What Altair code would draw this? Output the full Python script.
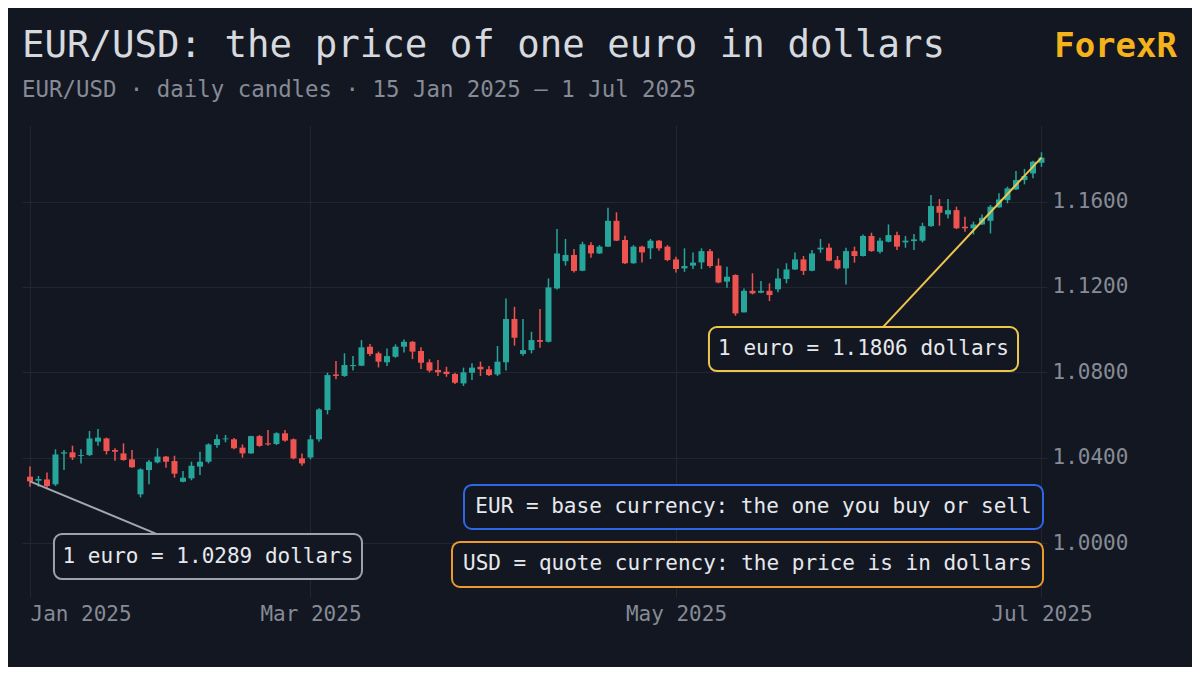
import altair as alt
import pandas as pd
import numpy as np

# ---------------- data ----------------
dates = pd.bdate_range("2025-01-15", "2025-07-01").strftime("%Y-%m-%d").tolist()

opens = [1.0311, 1.0292, 1.0298, 1.0275, 1.0419, 1.0425, 1.0408, 1.0412, 1.0475, 1.0490,
         1.0436, 1.0420, 1.0392, 1.0228, 1.0342, 1.0378, 1.0405, 1.0384, 1.0287, 1.0303,
         1.0358, 1.0381, 1.0459, 1.0486, 1.0486, 1.0447, 1.0420, 1.0501, 1.0467, 1.0464,
         1.0514, 1.0486, 1.0397, 1.0401, 1.0486, 1.0623, 1.0790, 1.0783, 1.0829, 1.0831,
         1.0920, 1.0889, 1.0847, 1.0873, 1.0920, 1.0943, 1.0900, 1.0847, 1.0811, 1.0803,
         1.0792, 1.0748, 1.0798, 1.0826, 1.0814, 1.0790, 1.0847, 1.1050, 1.0886, 1.0904,
         1.0951, 1.0943, 1.1193, 1.1321, 1.1350, 1.1276, 1.1396, 1.1357, 1.1389, 1.1510,
         1.1420, 1.1311, 1.1389, 1.1381, 1.1417, 1.1389, 1.1329, 1.1287, 1.1300, 1.1315,
         1.1368, 1.1300, 1.1225, 1.1256, 1.1081, 1.1182, 1.1173, 1.1182, 1.1189, 1.1237,
         1.1282, 1.1329, 1.1276, 1.1376, 1.1384, 1.1326, 1.1287, 1.1368, 1.1345, 1.1439,
         1.1365, 1.1412, 1.1443, 1.1409, 1.1415, 1.1417, 1.1485, 1.1579, 1.1540, 1.1560,
         1.1482, 1.1475, 1.1493, 1.1510, 1.1573, 1.1607, 1.1657, 1.1701, 1.1732, 1.1782]

highs = [1.0358, 1.0314, 1.0330, 1.0439, 1.0436, 1.0456, 1.0440, 1.0525, 1.0534, 1.0494,
         1.0444, 1.0467, 1.0436, 1.0350, 1.0389, 1.0444, 1.0408, 1.0409, 1.0337, 1.0381,
         1.0428, 1.0467, 1.0509, 1.0506, 1.0492, 1.0462, 1.0503, 1.0506, 1.0530, 1.0519,
         1.0530, 1.0490, 1.0420, 1.0506, 1.0631, 1.0798, 1.0853, 1.0889, 1.0876, 1.0951,
         1.0933, 1.0897, 1.0912, 1.0931, 1.0954, 1.0947, 1.0917, 1.0861, 1.0858, 1.0826,
         1.0798, 1.0822, 1.0842, 1.0850, 1.0829, 1.0923, 1.1146, 1.1107, 1.1050, 1.0990,
         1.1097, 1.1240, 1.1472, 1.1425, 1.1378, 1.1412, 1.1409, 1.1396, 1.1571, 1.1550,
         1.1440, 1.1396, 1.1393, 1.1425, 1.1420, 1.1396, 1.1342, 1.1381, 1.1362, 1.1381,
         1.1378, 1.1334, 1.1295, 1.1259, 1.1193, 1.1264, 1.1228, 1.1217, 1.1287, 1.1311,
         1.1362, 1.1345, 1.1373, 1.1425, 1.1404, 1.1345, 1.1384, 1.1389, 1.1446, 1.1454,
         1.1431, 1.1493, 1.1459, 1.1439, 1.1448, 1.1501, 1.1631, 1.1612, 1.1612, 1.1576,
         1.1529, 1.1506, 1.1540, 1.1584, 1.1639, 1.1670, 1.1743, 1.1753, 1.1792, 1.1831]

lows = [1.0264, 1.0264, 1.0259, 1.0267, 1.0342, 1.0389, 1.0373, 1.0408, 1.0456, 1.0415,
        1.0386, 1.0386, 1.0353, 1.0214, 1.0275, 1.0373, 1.0353, 1.0306, 1.0285, 1.0294,
        1.0319, 1.0373, 1.0447, 1.0472, 1.0440, 1.0400, 1.0418, 1.0451, 1.0456, 1.0459,
        1.0475, 1.0392, 1.0362, 1.0392, 1.0475, 1.0603, 1.0767, 1.0779, 1.0808, 1.0829,
        1.0876, 1.0823, 1.0829, 1.0868, 1.0893, 1.0862, 1.0815, 1.0800, 1.0783, 1.0779,
        1.0745, 1.0736, 1.0764, 1.0783, 1.0783, 1.0783, 1.0808, 1.0925, 1.0878, 1.0889,
        1.0915, 1.0940, 1.1188, 1.1300, 1.1268, 1.1274, 1.1337, 1.1355, 1.1387, 1.1415,
        1.1308, 1.1309, 1.1315, 1.1331, 1.1370, 1.1321, 1.1268, 1.1271, 1.1284, 1.1284,
        1.1290, 1.1217, 1.1196, 1.1065, 1.1080, 1.1165, 1.1170, 1.1134, 1.1175, 1.1217,
        1.1279, 1.1256, 1.1274, 1.1360, 1.1321, 1.1282, 1.1212, 1.1314, 1.1343, 1.1365,
        1.1357, 1.1409, 1.1373, 1.1384, 1.1373, 1.1409, 1.1482, 1.1487, 1.1521, 1.1471,
        1.1459, 1.1446, 1.1490, 1.1451, 1.1571, 1.1592, 1.1654, 1.1681, 1.1709, 1.1763]

closes = [1.0289, 1.0300, 1.0267, 1.0415, 1.0425, 1.0401, 1.0412, 1.0490, 1.0494, 1.0431,
          1.0428, 1.0389, 1.0355, 1.0345, 1.0381, 1.0405, 1.0381, 1.0325, 1.0306, 1.0362,
          1.0381, 1.0462, 1.0487, 1.0490, 1.0444, 1.0420, 1.0501, 1.0455, 1.0462, 1.0514,
          1.0480, 1.0397, 1.0373, 1.0486, 1.0626, 1.0787, 1.0783, 1.0834, 1.0834, 1.0917,
          1.0886, 1.0850, 1.0876, 1.0920, 1.0943, 1.0897, 1.0845, 1.0808, 1.0800, 1.0792,
          1.0751, 1.0800, 1.0822, 1.0814, 1.0787, 1.0850, 1.1050, 1.0962, 1.0904, 1.0951,
          1.0943, 1.1198, 1.1357, 1.1350, 1.1275, 1.1400, 1.1357, 1.1389, 1.1510, 1.1417,
          1.1311, 1.1389, 1.1362, 1.1417, 1.1381, 1.1326, 1.1284, 1.1298, 1.1314, 1.1368,
          1.1298, 1.1221, 1.1248, 1.1076, 1.1182, 1.1170, 1.1182, 1.1162, 1.1240, 1.1282,
          1.1329, 1.1275, 1.1357, 1.1384, 1.1323, 1.1287, 1.1368, 1.1345, 1.1439, 1.1368,
          1.1417, 1.1443, 1.1389, 1.1417, 1.1423, 1.1485, 1.1579, 1.1548, 1.1560, 1.1475,
          1.1475, 1.1493, 1.1524, 1.1576, 1.1610, 1.1662, 1.1701, 1.1720, 1.1787, 1.1806]

tick_dates = ["2025-01-15", "2025-03-03", "2025-05-01", "2025-07-01"]
tick_labels = ["Jan 2025", "Mar 2025", "May 2025", "Jul 2025"]
y_ticks = [1.00, 1.04, 1.08, 1.12, 1.16]

title = "EUR/USD: the price of one euro in dollars"
subtitle = "EUR/USD · daily candles · 15 Jan 2025 – 1 Jul 2025"
brand = "ForexR"

# annotation boxes (x in candle index units, y in price units)
box_text = ["1 euro = 1.0289 dollars", "1 euro = 1.1806 dollars",
            "EUR = base currency: the one you buy or sell",
            "USD = quote currency: the price is in dollars"]
box_x1 = [2.82, 79.88, 51.06, 49.65]
box_x2 = [39.06, 116.24, 119.18, 119.18]
box_y1 = [1.0042, 1.1012, 1.0272, 1.0005]
box_y2 = [0.9831, 1.0806, 1.0066, 0.9794]
box_color = ["#9ea2aa", "#eec64c", "#2f66e6", "#ec9a2c"]

lead_x1 = [0, 119]
lead_y1 = [1.0289, 1.1806]
lead_x2 = [14.94, 100.35]
lead_y2 = [1.0042, 1.1012]
lead_color = ["#a3a7ae", "#eec64c"]

# ---------------- styling ----------------
BG = "#131722"
MONO = "DejaVu Sans Mono"
UP, DOWN = "#26a69a", "#ef5350"
GRID = "#222633"
MUTED = "#868b95"

df = pd.DataFrame({"i": np.arange(len(opens)), "date": dates,
                   "open": opens, "high": highs, "low": lows, "close": closes})
df["dir"] = np.where(df["close"] >= df["open"], "up", "down")

tick_idx = [dates.index(d) for d in tick_dates]
label_expr = " : ".join(f"datum.value == {i} ? '{l}'" for i, l in zip(tick_idx, tick_labels)) + " : ''"

xs = alt.Scale(domain=[-0.94, 119.65], nice=False, zero=False, padding=0)
ys = alt.Scale(domain=[0.9747, 1.1959], nice=False, zero=False)

x_axis = alt.Axis(values=tick_idx, labelExpr=label_expr, title=None, grid=True,
                  gridColor=GRID, gridWidth=1, domain=False, ticks=False,
                  labelFont=MONO, labelFontSize=21, labelColor=MUTED, labelPadding=6,
                  labelAlign={"condition": {"test": f"datum.value == {tick_idx[0]}", "value": "left"},
                              "value": "center"},
                  labelFlush=False)
y_axis = alt.Axis(orient="right", values=y_ticks, format=".4f", title=None, grid=True,
                  gridColor=GRID, gridWidth=1, domain=False, ticks=False,
                  labelFont=MONO, labelFontSize=21, labelColor=MUTED, labelPadding=5)

color = alt.Color("dir:N", scale=alt.Scale(domain=["up", "down"], range=[UP, DOWN]), legend=None)

base = alt.Chart(df)
wicks = base.mark_rule(strokeWidth=1.5).encode(
    x=alt.X("i:Q", scale=xs, axis=x_axis),
    y=alt.Y("low:Q", scale=ys, axis=y_axis),
    y2="high:Q",
    color=color,
)
bodies = base.mark_bar(size=6).encode(
    x=alt.X("i:Q", scale=xs),
    y=alt.Y("open:Q", scale=ys),
    y2="close:Q",
    color=color,
)

lead_df = pd.DataFrame({"x": lead_x1, "y": lead_y1, "x2": lead_x2, "y2": lead_y2, "c": lead_color})
leads = alt.Chart(lead_df).mark_rule(strokeWidth=2).encode(
    x=alt.X("x:Q", scale=xs), y=alt.Y("y:Q", scale=ys), x2="x2:Q", y2="y2:Q",
    color=alt.Color("c:N", scale=None),
)

box_df = pd.DataFrame({"x": box_x1, "x2": box_x2, "y": box_y1, "y2": box_y2,
                       "c": box_color, "t": box_text})
box_df["xm"] = (box_df["x"] + box_df["x2"]) / 2
box_df["ym"] = (box_df["y"] + box_df["y2"]) / 2
boxes = alt.Chart(box_df).mark_rect(fill=BG, strokeWidth=2, cornerRadius=8).encode(
    x=alt.X("x:Q", scale=xs), x2="x2:Q", y=alt.Y("y:Q", scale=ys), y2="y2:Q",
    stroke=alt.Stroke("c:N", scale=None),
)
box_txt = alt.Chart(box_df).mark_text(font=MONO, fontSize=21, color="#e6e8ec",
                                      align="center", baseline="middle").encode(
    x=alt.X("xm:Q", scale=xs), y=alt.Y("ym:Q", scale=ys), text="t:N",
)

# header texts (positioned relative to the plot's top-left corner)
one = pd.DataFrame({"t": [0]})
title_txt = alt.Chart(one).mark_text(
    font=MONO, fontSize=37.4, color="#d6d9de", align="left", baseline="alphabetic",
    text=title).encode(x=alt.value(0), y=alt.value(-68))
subtitle_txt = alt.Chart(one).mark_text(
    font=MONO, fontSize=22.4, color=MUTED, align="left", baseline="alphabetic",
    text=subtitle).encode(x=alt.value(0), y=alt.value(-28))
brand_txt = alt.Chart(one).mark_text(
    font=MONO, fontSize=34, fontWeight="bold", color="#f5b21b",
    align="right", baseline="alphabetic", text=brand).encode(
    x=alt.value(1155), y=alt.value(-68))

chart = alt.layer(wicks, bodies, leads, boxes, box_txt,
                  title_txt, subtitle_txt, brand_txt).properties(
    width=1025, height=472,
    padding={"left": 14, "top": 117, "right": 145, "bottom": 70},
    autosize=alt.AutoSizeParams(type="none"),
    background=BG,
).configure_view(stroke=None)

chart.save("out.html", embed_options={"renderer": "svg", "actions": False})
